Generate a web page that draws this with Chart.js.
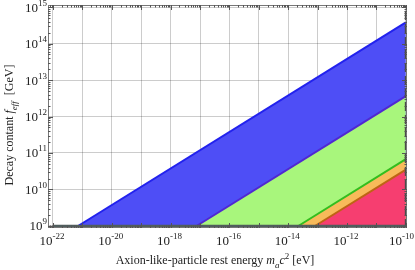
<!DOCTYPE html>
<html>
<head>
<meta charset="utf-8">
<script src="https://cdn.jsdelivr.net/npm/chart.js@4/dist/chart.umd.min.js"></script>
<style>
  html, body { margin: 0; padding: 0; background: #fff; }
  #wrap { width: 415px; height: 270px; }
</style>
</head>
<body>
<div id="wrap"><canvas id="myChart" width="415" height="270"></canvas></div>
<script>
// axis ranges (log10 exponents)
const xRange = [-22.17, -9.96];
const yRange = [8.945, 15.055];

// tick labels
const xTickExps = [-22, -20, -18, -16, -14, -12, -10];
const yTickExps = [9, 10, 11, 12, 13, 14, 15];

// region boundaries: [rest energy (eV), f_eff (GeV)]
const blueMass = [7.1e-22, 1e-10];
const blueF = [1e9, 3.8e14];
const greenMass = [7.6e-18, 1e-10];
const greenF = [1e9, 3.6e12];
const orangeMass = [2.2e-14, 1e-10];
const orangeF = [1e9, 6.8e10];
const redMass = [8.1e-14, 1e-10];
const redF = [1e9, 3.5e10];

// floor line and upper mass limit
const floorMass = [1e-22, 1e-10];
const floorF = [1e9, 1e9];
const limitMass = [1e-10, 1e-10];
const limitF = [Math.pow(10, yRange[0]), Math.pow(10, yRange[1])];

const xTitleParts = [
  ["Axion-like-particle rest energy ", "n"],
  ["m", "i"],
  ["a", "isub"],
  ["c", "i"],
  ["2", "sup"],
  [" [eV]", "n"],
];
const yTitleParts = [
  ["Decay contant ", "n"],
  ["f", "i"],
  ["eff", "isub"],
  ["  [GeV]", "n"],
];

const SERIF = '"Liberation Serif", "DejaVu Serif", serif';

const pts = (xs, ys) => xs.map((x, i) => ({ x: x, y: ys[i] }));

const region = (xs, ys, fillColor, lineColor, order) => ({
  data: pts(xs, ys),
  showLine: true,
  borderColor: lineColor,
  borderWidth: 2,
  backgroundColor: fillColor,
  fill: { value: 1e9 },
  pointRadius: 0,
  order: order,
});

function fontFor(style, size) {
  const it = style === "i" || style === "isub" ? "italic " : "";
  return it + size + "px " + SERIF;
}

function partSize(style, base) {
  return style === "isub" || style === "sup" ? Math.round(base * 0.72) : base;
}

function drawParts(ctx, parts, cx, baseline, base) {
  let total = 0;
  parts.forEach(([t, s]) => {
    ctx.font = fontFor(s, partSize(s, base));
    total += ctx.measureText(t).width;
  });
  let x = cx - total / 2;
  parts.forEach(([t, s]) => {
    ctx.font = fontFor(s, partSize(s, base));
    let dy = 0;
    if (s === "isub") dy = base * 0.3;
    if (s === "sup") dy = -base * 0.4;
    ctx.fillText(t, x, baseline + dy);
    x += ctx.measureText(t).width;
  });
}

function powLabel(ctx, exp, x, baseline, align, maxRight) {
  const base = "10";
  const sup = String(exp);
  ctx.font = "13px " + SERIF;
  const wb = ctx.measureText(base).width;
  ctx.font = "9px " + SERIF;
  const ws = ctx.measureText(sup).width;
  let left = align === "right" ? x - wb - ws : x - (wb + ws) / 2 - 1;
  if (maxRight && left + wb + ws > maxRight) left = maxRight - wb - ws;
  ctx.font = "13px " + SERIF;
  ctx.fillText(base, left, baseline);
  ctx.font = "9px " + SERIF;
  ctx.fillText(sup, left + wb, baseline - 6);
}

const frameAndLabels = {
  id: "frameAndLabels",
  afterDraw(chart) {
    const ctx = chart.ctx;
    const a = chart.chartArea;
    const xs = chart.scales.x;
    const ys = chart.scales.y;
    ctx.save();
    ctx.strokeStyle = "#777";
    ctx.lineWidth = 1;
    ctx.strokeRect(a.left + 0.5, a.top + 0.5, a.right - a.left - 1, a.bottom - a.top - 1);

    // inward ticks on all four sides
    ctx.beginPath();
    for (let e = Math.floor(xRange[0]); e <= Math.ceil(xRange[1]); e++) {
      for (let k = 1; k <= 9; k++) {
        const v = k * Math.pow(10, e);
        const p = xs.getPixelForValue(v);
        if (p < a.left + 1 || p > a.right - 1) continue;
        const len = k === 1 ? 5 : 2.5;
        const px = Math.round(p) + 0.5;
        ctx.moveTo(px, a.bottom);
        ctx.lineTo(px, a.bottom - len);
        ctx.moveTo(px, a.top);
        ctx.lineTo(px, a.top + len);
      }
    }
    for (let e = Math.floor(yRange[0]); e <= Math.ceil(yRange[1]); e++) {
      for (let k = 1; k <= 9; k++) {
        const v = k * Math.pow(10, e);
        const p = ys.getPixelForValue(v);
        if (p < a.top + 1 || p > a.bottom - 1) continue;
        const len = k === 1 ? 5 : 2.5;
        const py = Math.round(p) + 0.5;
        ctx.moveTo(a.left, py);
        ctx.lineTo(a.left + len, py);
        ctx.moveTo(a.right, py);
        ctx.lineTo(a.right - len, py);
      }
    }
    ctx.strokeStyle = "#555";
    ctx.stroke();

    // tick labels
    ctx.fillStyle = "#222";
    ctx.textBaseline = "alphabetic";
    ctx.textAlign = "left";
    xTickExps.forEach((e) => {
      powLabel(ctx, e, xs.getPixelForValue(Math.pow(10, e)), 245, "center", 414);
    });
    yTickExps.forEach((e) => {
      powLabel(ctx, e, a.left - 1, ys.getPixelForValue(Math.pow(10, e)) + 4.5, "right");
    });

    // axis titles
    drawParts(ctx, xTitleParts, 215, 264, 12);
    ctx.translate(13, 125);
    ctx.rotate(-Math.PI / 2);
    drawParts(ctx, yTitleParts, 0, 0, 12);
    ctx.restore();
  },
};

const canvas = document.getElementById("myChart");
const myChart = new Chart(canvas, {
  type: "scatter",
  data: {
    datasets: [
      region(blueMass, blueF, "rgb(78, 78, 246)", "rgb(34, 34, 238)", 6),
      region(greenMass, greenF, "rgb(168, 246, 124)", "rgb(80, 40, 210)", 5),
      region(orangeMass, orangeF, "rgb(248, 186, 90)", "rgb(50, 190, 30)", 4),
      region(redMass, redF, "rgb(246, 62, 112)", "rgb(190, 100, 20)", 3),
      {
        data: pts(limitMass, limitF),
        showLine: true,
        borderColor: "#4a4a4a",
        borderWidth: 2,
        borderDash: [9, 4],
        pointRadius: 0,
        fill: false,
        clip: 4,
        order: 2,
      },
      {
        data: pts(floorMass, floorF),
        showLine: true,
        borderColor: "rgb(80, 94, 94)",
        borderWidth: 2.5,
        pointRadius: 0,
        fill: false,
        order: 1,
      },
    ],
  },
  options: {
    responsive: false,
    animation: false,
    layout: { padding: { left: 48, right: 8, top: 5, bottom: 42 } },
    plugins: { legend: { display: false }, tooltip: { enabled: false } },
    scales: {
      x: {
        type: "logarithmic",
        min: Math.pow(10, xRange[0]),
        max: Math.pow(10, xRange[1]),
        afterBuildTicks: (scale) => {
          const t = [];
          for (let e = -22; e <= -10; e++) t.push({ value: Math.pow(10, e) });
          scale.ticks = t;
        },
        ticks: { display: false },
        grid: { color: "rgba(0,0,0,0.2)", lineWidth: 1, drawTicks: false },
        border: { display: false },
      },
      y: {
        type: "logarithmic",
        min: Math.pow(10, yRange[0]),
        max: Math.pow(10, yRange[1]),
        afterBuildTicks: (scale) => {
          scale.ticks = yTickExps.map((e) => ({ value: Math.pow(10, e) }));
        },
        ticks: { display: false },
        grid: { color: "rgba(0,0,0,0.2)", lineWidth: 1, drawTicks: false },
        border: { display: false },
      },
    },
  },
  plugins: [frameAndLabels],
});
</script>
</body>
</html>
